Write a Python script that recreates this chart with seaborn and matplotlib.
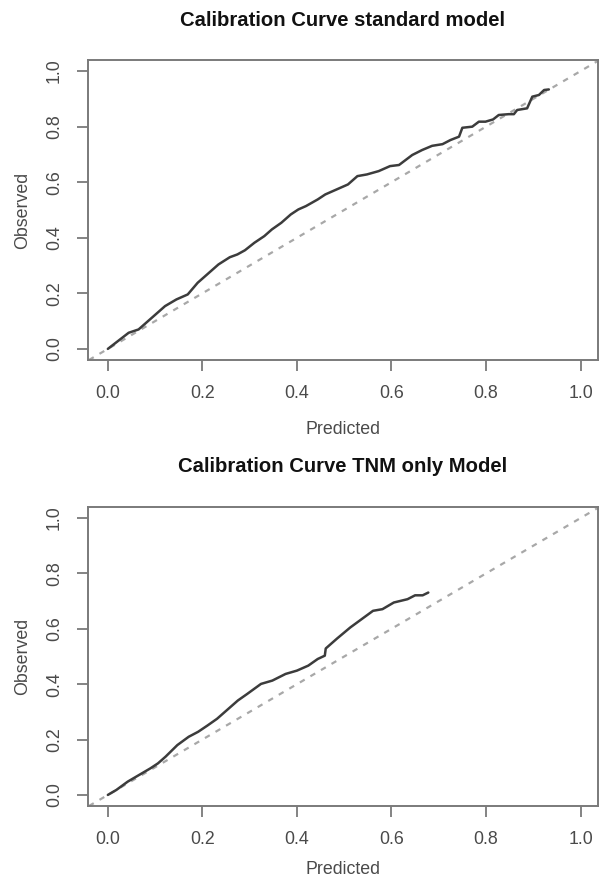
import matplotlib
matplotlib.use("Agg")
import matplotlib.pyplot as plt
import seaborn as sns
import numpy as np
import pandas as pd

# ---- data ----
std_pred = [0.0, 0.044, 0.065, 0.097, 0.121, 0.145, 0.169, 0.19, 0.21, 0.234, 0.258, 0.274,
            0.29, 0.31, 0.331, 0.347, 0.367, 0.387, 0.403, 0.419, 0.444, 0.46, 0.484, 0.508,
            0.528, 0.548, 0.573, 0.597, 0.616, 0.644, 0.665, 0.686, 0.708, 0.725, 0.743, 0.75,
            0.771, 0.785, 0.799, 0.815, 0.827, 0.848, 0.859, 0.866, 0.887, 0.898, 0.912, 0.923, 0.933]
std_obs = [0.0, 0.058, 0.07, 0.118, 0.154, 0.178, 0.196, 0.238, 0.268, 0.304, 0.33, 0.34,
           0.355, 0.382, 0.406, 0.43, 0.454, 0.484, 0.502, 0.514, 0.538, 0.556, 0.574, 0.592,
           0.622, 0.628, 0.64, 0.658, 0.662, 0.698, 0.716, 0.731, 0.737, 0.752, 0.764, 0.796,
           0.80, 0.818, 0.818, 0.826, 0.842, 0.845, 0.845, 0.86, 0.866, 0.908, 0.914, 0.932, 0.934]

tnm_pred = [0.0, 0.018, 0.042, 0.066, 0.09, 0.106, 0.122, 0.147, 0.171, 0.191, 0.211, 0.231,
            0.251, 0.275, 0.295, 0.324, 0.348, 0.376, 0.40, 0.424, 0.444, 0.459, 0.461, 0.485,
            0.513, 0.537, 0.561, 0.581, 0.605, 0.634, 0.65, 0.666, 0.678]
tnm_obs = [0.0, 0.018, 0.048, 0.072, 0.096, 0.114, 0.138, 0.18, 0.21, 0.228, 0.251, 0.275,
           0.305, 0.341, 0.365, 0.401, 0.413, 0.437, 0.449, 0.467, 0.491, 0.503, 0.529, 0.565,
           0.605, 0.635, 0.665, 0.671, 0.695, 0.707, 0.721, 0.721, 0.731]

titles = ["Calibration Curve standard model", "Calibration Curve TNM only Model"]
ticks = [0.0, 0.2, 0.4, 0.6, 0.8, 1.0]
tick_labels = ["0.0", "0.2", "0.4", "0.6", "0.8", "1.0"]

sns.set_style("white")
plt.rcParams['font.family'] = ['Liberation Sans', 'DejaVu Sans']

W, H = 599, 889
fig = plt.figure(figsize=(W / 100, H / 100), dpi=100)

def ax_rect(left, top, right, bottom):
    return [left / W, 1 - bottom / H, (right - left) / W, (bottom - top) / H]

rects = [ax_rect(88, 60, 598, 360), ax_rect(88, 507, 598, 806)]
title_y = [20, 467]
xlabel_y = [-0.233, -0.214]

frames = [pd.DataFrame({"Predicted": std_pred, "Observed": std_obs}),
          pd.DataFrame({"Predicted": tnm_pred, "Observed": tnm_obs})]

box_col = "#7a7a7a"
text_col = "#4a4a4a"

for i, df in enumerate(frames):
    ax = fig.add_axes(rects[i])
    ax.axline((0, 0), slope=1, color="#a8a8a8", lw=1.6, ls=(0, (2.5, 3)), zorder=1)
    sns.lineplot(data=df, x="Predicted", y="Observed", ax=ax, color="#3c3c3c",
                 lw=1.8, estimator=None, sort=False, zorder=2)
    ax.set_xlim(-0.042, 1.037)
    ax.set_ylim(-0.04, 1.04)
    ax.set_xticks(ticks)
    ax.set_xticklabels(tick_labels)
    ax.set_yticks(ticks)
    ax.set_yticklabels(tick_labels, rotation=90, va="center")
    ax.tick_params(axis="both", direction="out", length=8, width=1.3, color=box_col,
                   labelcolor=text_col, labelsize=12.8, pad=10,
                   bottom=True, left=True)
    for sp in ax.spines.values():
        sp.set_color(box_col)
        sp.set_linewidth(1.4)
    ax.set_xlabel("Predicted", fontsize=12.8, color=text_col)
    ax.set_ylabel("Observed", fontsize=12.8, color=text_col)
    ax.xaxis.set_label_coords(0.5, xlabel_y[i])
    ax.yaxis.set_label_coords(-0.129, 0.5)
    ax.xaxis.label.set_va("center")
    ax.yaxis.label.set_va("center")
    fig.text((88 + 598) / 2 / W, 1 - title_y[i] / H, titles[i], ha="center", va="center",
             fontsize=14.6, fontweight="bold", color="#111111")

fig.savefig("out.png", dpi=100)
